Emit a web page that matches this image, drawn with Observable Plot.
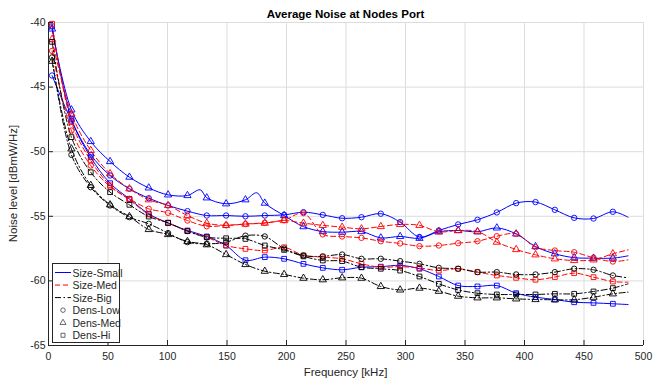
<!DOCTYPE html>
<html><head><meta charset="utf-8">
<script src="https://cdn.jsdelivr.net/npm/d3@7"></script>
<script src="https://cdn.jsdelivr.net/npm/@observablehq/plot@0.6"></script>
<style>
body{margin:0;background:#fff;font-family:"Liberation Sans",Arial,sans-serif;}
#wrap{position:relative;width:664px;height:382px;}
#overlay{position:absolute;left:0;top:0;pointer-events:none;}
</style></head><body><div id="wrap"></div>
<script>
// Frequencies (kHz) of the marked points; the last entry is the line end (no marker)
const freq = [3, 19.25, 35.5, 51.75, 68, 84.25, 100.5, 116.75, 133, 149.25, 165.5, 181.75, 198, 214.25, 230.5, 246.75, 263, 279.25, 295.5, 311.75, 328, 344.25, 360.5, 376.75, 393, 409.25, 425.5, 441.75, 458, 474.25, 487];

const smallLow = [-44.1, -47.6, -50.24, -51.84, -52.87, -53.6, -54.16, -54.6, -54.94, -54.94, -55.0, -54.94, -54.89, -54.68, -54.89, -55.15, -55.07, -54.8, -55.45, -56.6, -56.1, -55.63, -55.27, -54.7, -53.98, -53.9, -54.5, -55.12, -55.17, -54.65, -55.07];
const smallMed = [-40.5, -46.76, -49.21, -50.76, -51.97, -52.8, -53.34, -53.39, -53.57, -54.03, -53.72, -53.98, -54.94, -55.8, -56.18, -56.23, -56.18, -56.67, -56.56, -56.7, -56.2, -56.1, -56.2, -55.9, -56.36, -57.34, -57.9, -58.2, -58.24, -58.24, -58.06];
const smallMedBumps = [[127.5, -52.95], [175, -53.18]];
const smallHi = [-40.3, -47.45, -50.43, -52.44, -53.65, -54.81, -55.53, -56.1, -56.56, -57.26, -58.4, -58.16, -58.29, -58.68, -58.99, -59.14, -58.94, -58.9, -58.8, -59.06, -59.66, -60.36, -60.43, -60.36, -60.95, -61.26, -61.44, -61.65, -61.7, -61.77, -61.83];
const medLow = [-42.2, -48.36, -51.07, -52.7, -53.65, -54.42, -54.73, -55.33, -55.77, -55.7, -55.6, -55.5, -55.3, -54.75, -56.4, -56.56, -56.67, -56.93, -57.1, -57.31, -57.26, -57.08, -56.93, -56.54, -56.36, -57.39, -57.65, -57.78, -58.21, -58.5, -58.37];
const medMed = [-41.3, -47.07, -49.9, -51.7, -52.87, -53.72, -54.16, -54.94, -55.53, -55.7, -55.6, -55.53, -55.33, -55.53, -55.7, -55.84, -55.97, -55.79, -55.63, -55.7, -56.2, -56.1, -56.18, -57.0, -57.57, -57.98, -58.29, -58.42, -58.37, -57.9, -57.6];
const medHi = [-40.1, -47.71, -50.68, -52.6, -53.72, -54.86, -55.5, -56.15, -56.62, -57.26, -57.52, -57.65, -57.4, -58.03, -58.16, -58.29, -58.68, -58.94, -58.9, -59.0, -59.2, -59.06, -59.32, -59.58, -59.76, -59.91, -59.7, -59.4, -59.71, -60.05, -60.1];
const bigLow = [-42.7, -50.24, -52.75, -54.16, -55.07, -55.58, -56.3, -57.0, -57.13, -57.0, -56.5, -56.56, -57.5, -58.03, -58.1, -57.96, -58.29, -58.29, -58.47, -58.68, -58.99, -59.06, -59.32, -59.32, -59.5, -59.5, -59.32, -59.06, -59.14, -59.58, -59.76];
const bigMed = [-43.0, -49.78, -52.6, -54.11, -55.02, -56.02, -56.41, -56.95, -57.2, -57.96, -58.73, -59.25, -59.5, -59.79, -59.91, -59.76, -59.79, -60.43, -60.7, -60.56, -60.8, -61.18, -61.31, -61.31, -61.39, -61.44, -61.46, -61.46, -61.26, -61.0, -60.87];
const bigHi = [-41.5, -48.87, -51.59, -53.13, -54.11, -55.02, -55.5, -56.15, -56.62, -56.7, -56.75, -57.26, -57.6, -58.1, -58.42, -58.47, -58.94, -59.06, -59.2, -59.66, -60.23, -60.7, -60.95, -61.05, -61.05, -61.05, -61.0, -61.0, -60.82, -60.56, -60.23];

const sizeNames = ["Size-Small", "Size-Med", "Size-Big"];
const densNames = ["Dens-Low", "Dens-Med", "Dens-Hi"];
const xTicks = [0, 50, 100, 150, 200, 250, 300, 350, 400, 450, 500];
const yTicks = [-65, -60, -55, -50, -45, -40];

const sizeColors = ["#0000ff", "#ff0000", "#000000"];
const sizeDash = [null, "5,3", "6,2.5,1.5,2.5"];
const densSymbols = ["circle", "triangle", "square"];

const seriesList = [
  {size: "Size-Small", dens: "Dens-Low", values: smallLow},
  {size: "Size-Small", dens: "Dens-Med", values: smallMed, extra: smallMedBumps},
  {size: "Size-Small", dens: "Dens-Hi", values: smallHi},
  {size: "Size-Med", dens: "Dens-Low", values: medLow},
  {size: "Size-Med", dens: "Dens-Med", values: medMed},
  {size: "Size-Med", dens: "Dens-Hi", values: medHi},
  {size: "Size-Big", dens: "Dens-Low", values: bigLow},
  {size: "Size-Big", dens: "Dens-Med", values: bigMed},
  {size: "Size-Big", dens: "Dens-Hi", values: bigHi}
];

const rows = [];
for (const s of seriesList) {
  const pts = s.values.map((v, i) => ({f: freq[i], v, size: s.size, dens: s.dens, key: s.size + s.dens, marker: i < freq.length - 1}));
  if (s.extra) for (const [f, v] of s.extra) pts.push({f, v, size: s.size, dens: s.dens, key: s.size + s.dens, marker: false});
  pts.sort((a, b) => a.f - b.f);
  rows.push(...pts);
}

const lineMarks = sizeNames.map((sz, k) => Plot.line(rows.filter(d => d.size === sz), {
  x: "f", y: "v", z: "key", stroke: sizeColors[k], strokeWidth: 1,
  strokeDasharray: sizeDash[k] || undefined, curve: "catmull-rom", clip: true
}));

const chart = Plot.plot({
  width: 664, height: 382,
  marginLeft: 48, marginRight: 21, marginTop: 22, marginBottom: 37,
  x: {domain: [0, 500]},
  y: {domain: [-65, -40]},
  color: {domain: sizeNames, range: sizeColors},
  symbol: {domain: densNames, range: densSymbols},
  style: {fontFamily: "'Liberation Sans', Arial, sans-serif", fontSize: "10px", color: "#262626", background: "white", overflow: "visible"},
  marks: [
    Plot.gridX(xTicks, {stroke: "#dcdcdc", strokeOpacity: 1, strokeWidth: 1}),
    Plot.gridY(yTicks, {stroke: "#dcdcdc", strokeOpacity: 1, strokeWidth: 1}),
    ...lineMarks,
    Plot.dot(rows.filter(d => d.marker), {x: "f", y: "v", stroke: "size", symbol: "dens", r: 2.7, strokeWidth: 0.9, fill: "none"}),
    Plot.axisX(xTicks, {tickSize: -5, tickFormat: () => "", stroke: "#262626", label: null}),
    Plot.axisX(xTicks, {tickSize: 0, tickPadding: 7, tickFormat: d => String(d), fill: "#262626", label: null, fontSize: 10.5}),
    Plot.axisY(yTicks, {tickSize: -5, tickFormat: () => "", stroke: "#262626", label: null}),
    Plot.axisY(yTicks, {tickSize: 0, tickPadding: 3, tickFormat: d => String(d), fill: "#262626", label: null, fontSize: 10.5}),
    Plot.ruleX([0], {stroke: "#262626", strokeWidth: 1}),
    Plot.ruleY([-65], {stroke: "#262626", strokeWidth: 1})
  ]
});

const wrap = document.getElementById("wrap");
wrap.appendChild(chart);

// Overlay: title, axis labels, legend
const ov = d3.select(wrap).append("svg").attr("id", "overlay").attr("width", 664).attr("height", 382)
  .style("font-family", "'Liberation Sans', Arial, sans-serif");
ov.append("text").attr("x", 345.5).attr("y", 18).attr("text-anchor", "middle")
  .attr("font-size", 11.5).attr("font-weight", "bold").attr("fill", "#000").text("Average Noise at Nodes Port");
ov.append("text").attr("x", 345.5).attr("y", 376).attr("text-anchor", "middle")
  .attr("font-size", 11.5).attr("fill", "#262626").text("Frequency [kHz]");
ov.append("text").attr("transform", "translate(13,183.5) rotate(-90)").attr("text-anchor", "middle")
  .attr("dominant-baseline", "central").attr("font-size", 11.5).attr("fill", "#262626").text("Noise level [dBmW/Hz]");

const lg = ov.append("g").attr("transform", "translate(52.5,263.5)");
lg.append("rect").attr("width", 67).attr("height", 79).attr("fill", "#fff").attr("stroke", "#262626").attr("stroke-width", 1);
const legendItems = [
  {label: sizeNames[0], type: "line", color: sizeColors[0], dash: sizeDash[0]},
  {label: sizeNames[1], type: "line", color: sizeColors[1], dash: sizeDash[1]},
  {label: sizeNames[2], type: "line", color: sizeColors[2], dash: sizeDash[2]},
  {label: densNames[0], type: "sym", sym: d3.symbolCircle},
  {label: densNames[1], type: "sym", sym: d3.symbolTriangle},
  {label: densNames[2], type: "sym", sym: d3.symbolSquare}
];
legendItems.forEach((it, i) => {
  const y = 9 + i * 12.55;
  if (it.type === "line") {
    lg.append("line").attr("x1", 2.5).attr("x2", 18.5).attr("y1", y).attr("y2", y)
      .attr("stroke", it.color).attr("stroke-width", 1).attr("stroke-dasharray", it.dash);
  } else {
    lg.append("path").attr("transform", `translate(10.5,${y})`)
      .attr("d", d3.symbol(it.sym, 16)()).attr("fill", "none").attr("stroke", "#444").attr("stroke-width", 0.8);
  }
  lg.append("text").attr("x", 20).attr("y", y).attr("dominant-baseline", "central")
    .attr("font-size", 10.5).attr("fill", "#262626").text(it.label);
});
</script></body></html>
